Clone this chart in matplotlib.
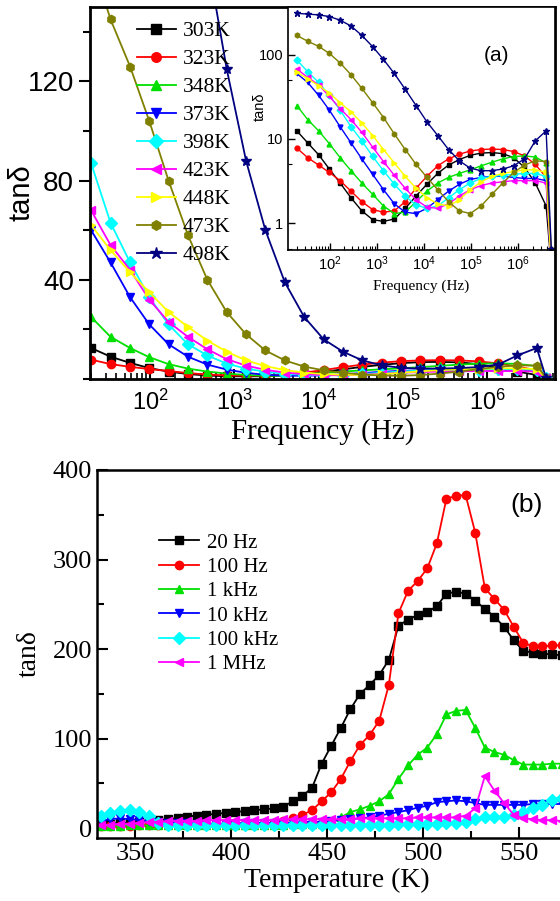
import matplotlib
matplotlib.use('Agg')
import matplotlib.pyplot as plt
from matplotlib.ticker import MultipleLocator, FixedLocator, LogLocator, NullFormatter

plt.rcParams['mathtext.default'] = 'regular'
SANS = 'Liberation Sans'
SERIF = 'Liberation Serif'

# ---- panel (a): tan(delta) vs frequency at several temperatures ----
freq = [20, 34, 58, 98, 166, 282, 479, 813, 1380, 2340, 3980, 6760, 11500,
        19500, 33100, 56200, 95500, 162000, 275000, 468000, 794000,
        1350000, 2290000, 3890000, 5000000]

labels_a = ['303K', '323K', '348K', '373K', '398K', '423K', '448K', '473K', '498K']
tan_303 = [12.5, 9, 6.5, 4.4, 3.0, 2.0, 1.4, 1.1, 1.05, 1.12, 1.5, 2.1, 2.9,
           3.9, 4.9, 5.7, 6.4, 6.8, 6.9, 6.7, 6.0, 4.6, 3.0, 1.6, 0.3]
tan_323 = [7.8, 6.0, 4.9, 4.0, 3.2, 2.4, 1.8, 1.45, 1.35, 1.4, 1.8, 2.6, 3.6,
           4.8, 5.8, 6.6, 7.2, 7.5, 7.6, 7.5, 7.1, 6.3, 5.0, 3.5, 0.3]
tan_348 = [25, 17, 12.5, 8.8, 6.0, 4.2, 3.0, 2.2, 1.6, 1.3, 1.35, 1.8, 2.4,
           3.0, 3.5, 3.9, 4.3, 4.8, 5.3, 5.8, 6.2, 6.3, 6.1, 5.2, 0.3]
tan_373 = [60, 47, 33, 22, 14, 9, 5.8, 3.8, 2.5, 1.7, 1.35, 1.3, 1.5,
           1.9, 2.4, 2.9, 3.3, 3.5, 3.6, 3.6, 3.5, 3.4, 3.4, 3.2, 0.3]
tan_398 = [87, 63, 47, 33, 22, 14, 9.5, 6.2, 4.2, 2.9, 2.1, 1.65, 1.5,
           1.6, 2.0, 2.5, 3.0, 3.4, 3.6, 3.7, 3.8, 3.9, 3.9, 3.6, 0.3]
tan_423 = [68, 54, 44, 32, 23, 17, 12, 8.0, 5.4, 3.7, 2.6, 1.9, 1.55,
           1.5, 1.7, 2.1, 2.5, 2.8, 3.0, 3.1, 3.2, 3.2, 3.2, 3.0, 0.3]
tan_448 = [62, 52, 43, 35, 27, 21, 15.5, 11, 7.5, 5.2, 3.6, 2.6, 2.0,
           1.7, 1.6, 1.9, 2.5, 3.1, 3.6, 3.9, 4.1, 4.3, 4.3, 4.0, 0.3]
tan_473 = [170, 145, 126, 104, 80, 58, 40, 27, 18, 11.5, 7.5, 5.0, 3.5,
           2.5, 1.8, 1.4, 1.3, 1.6, 2.2, 3.0, 4.0, 4.9, 5.5, 5.4, 0.5]
tan_498 = [311, 305, 298, 285, 258, 220, 170, 125, 88, 60, 39, 25, 16,
           11, 7.5, 5.5, 4.5, 4.2, 4.2, 4.4, 4.8, 5.8, 9.5, 12.5, 0.5]
series_a = [tan_303, tan_323, tan_348, tan_373, tan_398, tan_423, tan_448, tan_473, tan_498]

colors_a = ['#000000', '#ff0000', '#00e000', '#0000ff', '#00ffff',
            '#ff00ff', '#ffff00', '#808000', '#000080']
markers_a = ['s', 'o', '^', 'v', 'D', '<', '>', 'h', '*']

# ---- panel (b): tan(delta) vs temperature at several frequencies ----
temp = [332, 337, 342, 347, 352, 357, 362, 367, 372, 377, 382, 387, 392, 397,
        402, 407, 412, 417, 422, 427, 432, 437, 442, 447, 452, 457, 462, 467,
        472, 477, 482, 487, 492, 497, 502, 507, 512, 517, 522, 527, 532, 537,
        542, 547, 552, 557, 562, 567, 572]

labels_b = ['20 Hz', '100 Hz', '1 kHz', '10 kHz', '100 kHz', '1 MHz']
tan_20 = [4, 5, 6, 6, 7, 8, 9, 10, 11, 13, 14, 15, 16, 17,
          18, 19, 20, 21, 22, 24, 30, 36, 45, 72, 92, 112, 133, 150,
          160, 171, 188, 226, 233, 238, 241, 248, 262, 264, 262, 254, 245, 236,
          225, 210, 198, 196, 195, 194, 193]
tan_100 = [2, 2, 2, 2, 3, 3, 3, 3, 3, 4, 4, 4, 4, 4,
           5, 5, 5, 5, 6, 8, 11, 15, 20, 30, 40, 55, 75, 93,
           104, 120, 160, 240, 265, 276, 290, 318, 368, 371, 372, 330, 268, 256,
           244, 225, 207, 203, 203, 204, 204]
tan_1k = [2, 2, 2, 3, 3, 3, 3, 3, 3, 3, 3, 3, 4, 4,
          4, 4, 4, 4, 4, 4, 5, 5, 5, 5, 6, 12, 18, 21,
          25, 30, 38, 55, 70, 82, 90, 105, 127, 131, 132, 112, 90, 85,
          82, 76, 71, 71, 71, 72, 72]
tan_10k = [8, 10, 11, 10, 9, 8, 7, 6, 6, 6, 5, 5, 5, 5,
           5, 6, 6, 6, 6, 6, 6, 7, 7, 7, 8, 9, 10, 11,
           12, 14, 16, 18, 20, 23, 25, 29, 30, 31, 30, 28, 26, 26,
           26, 26, 26, 27, 27, 27, 27]
tan_100k = [14, 17, 19, 20, 18, 14, 6, 4, 3, 3, 3, 3, 3, 3,
            3, 3, 3, 3, 3, 3, 3, 3, 3, 3, 4, 4, 4, 4,
            4, 4, 4, 5, 5, 5, 5, 5, 6, 6, 7, 10, 12, 12,
            13, 15, 18, 22, 26, 31, 34]
tan_1M = [3, 4, 5, 5, 6, 7, 7, 8, 8, 8, 8, 9, 9, 9,
          9, 9, 9, 9, 9, 10, 10, 10, 10, 10, 10, 10, 10, 11,
          11, 11, 11, 11, 11, 12, 12, 12, 12, 12, 14, 22, 58, 42,
          28, 15, 11, 10, 9, 9, 8]
series_b = [tan_20, tan_100, tan_1k, tan_10k, tan_100k, tan_1M]
colors_b = ['#000000', '#ff0000', '#00e000', '#0000ff', '#00ffff', '#ff00ff']
markers_b = ['s', 'o', '^', 'v', 'D', '<']

W, H = 560, 901
fig = plt.figure(figsize=(W / 100, H / 100), dpi=100)


def frac(x0, y0, x1, y1):
    # pixel box (left, top, right, bottom) -> figure fraction rect
    return [x0 / W, 1 - y1 / H, (x1 - x0) / W, (y1 - y0) / H]


# main axes of (a)
ax1 = fig.add_axes(frac(90, 7, 555, 379))
for vals, c, m, lab in zip(series_a, colors_a, markers_a, labels_a):
    ms = 7.5 if m == '*' else 6
    ax1.plot(freq, vals, color=c, marker=m, ms=ms, lw=1.3, mec=c, label=lab)
ax1.set_xscale('log')
ax1.set_xlim(19.4, 6.4e6)
ax1.set_ylim(0, 150)
ax1.set_yticks([40, 80, 120])
ax1.yaxis.set_minor_locator(MultipleLocator(20))
ax1.tick_params(axis='y', which='major', direction='out', length=8, width=1.5, labelsize=20)
ax1.tick_params(axis='y', which='minor', direction='out', length=5, width=1.5)
ax1.tick_params(axis='x', which='major', direction='in', length=7, width=1.5, labelsize=17, pad=8)
ax1.tick_params(axis='x', which='minor', direction='in', length=4, width=1.2)
for lab in ax1.get_xticklabels() + ax1.get_yticklabels():
    lab.set_fontfamily(SANS)
for s in ax1.spines.values():
    s.set_linewidth(2)
ax1.set_ylabel('tanδ', fontsize=21, family=SANS)
ax1.yaxis.set_label_coords(-0.118, 0.5)
ax1.set_xlabel('Frequency (Hz)', fontsize=21, family=SERIF, labelpad=2)
ax1.legend(loc='upper left', bbox_to_anchor=(0.1, 0.962), frameon=False,
           prop={'family': SERIF, 'size': 15.5}, handlelength=1.85,
           handletextpad=0.3, labelspacing=0.37, borderpad=0, borderaxespad=0,
           markerscale=1.15)

# inset of (a)
axin = fig.add_axes(frac(288, 7, 555, 250))
for vals, c, m in zip(series_a, colors_a, markers_a):
    ms = 5 if m == '*' else 3.5
    axin.plot(freq, vals, color=c, marker=m, ms=ms, lw=1.0, mec=c)
axin.set_xscale('log')
axin.set_yscale('log')
axin.set_xlim(13, 6e6)
axin.set_ylim(0.48, 370)
axin.xaxis.set_major_locator(FixedLocator([1e2, 1e3, 1e4, 1e5, 1e6]))
axin.set_xticklabels(['$10^{%d}$' % n for n in range(2, 7)])
axin.xaxis.set_minor_locator(LogLocator(base=10, subs=range(2, 10), numticks=20))
axin.xaxis.set_minor_formatter(NullFormatter())
axin.yaxis.set_major_locator(FixedLocator([1, 10, 100]))
axin.set_yticklabels(['1', '10', '100'])
axin.yaxis.set_minor_locator(FixedLocator([0.5, 5, 50]))
axin.yaxis.set_minor_formatter(NullFormatter())
axin.tick_params(which='major', direction='in', length=5, width=1, labelsize=10.5)
axin.tick_params(which='minor', direction='in', length=3, width=0.8)
for lab in axin.get_xticklabels() + axin.get_yticklabels():
    lab.set_fontfamily(SANS)
for s in axin.spines.values():
    s.set_linewidth(1.2)
axin.set_xlabel('Frequency (Hz)', fontsize=11, family=SERIF, labelpad=4)
axin.set_ylabel('tanδ', fontsize=10.5, family=SANS)
axin.yaxis.set_label_coords(-0.08, 0.59)
axin.text(0.78, 0.8, '(a)', transform=axin.transAxes, fontsize=15, family=SANS,
          ha='center', va='center')

# panel (b)
ax2 = fig.add_axes(frac(97, 470, 577, 838))
for vals, c, m, lab in zip(series_b, colors_b, markers_b, labels_b):
    ax2.plot(temp, vals, color=c, marker=m, ms=6, lw=1.3, mec=c, label=lab)
ax2.set_xlim(330, 580)
ax2.set_ylim(-11, 400)
ax2.xaxis.set_major_locator(MultipleLocator(50))
ax2.xaxis.set_minor_locator(MultipleLocator(25))
ax2.yaxis.set_major_locator(MultipleLocator(100))
ax2.yaxis.set_minor_locator(MultipleLocator(50))
ax2.tick_params(which='major', direction='in', length=8, width=1.5, labelsize=19)
ax2.tick_params(which='minor', direction='in', length=5, width=1.5)
for lab in ax2.get_xticklabels() + ax2.get_yticklabels():
    lab.set_fontfamily(SERIF)
for s in ax2.spines.values():
    s.set_linewidth(1.8)
ax2.set_xlabel('Temperature (K)', fontsize=20, family=SERIF, labelpad=2)
ax2.set_ylabel('tanδ', fontsize=20, family=SERIF, labelpad=8)
ax2.legend(loc='upper left', bbox_to_anchor=(0.13, 0.829), frameon=False,
           prop={'family': SERIF, 'size': 15}, handlelength=1.9,
           handletextpad=0.4, labelspacing=0.23, borderpad=0, borderaxespad=0)
fig.text(527 / W, 1 - 505 / H, '(b)', fontsize=19, family=SANS, ha='center', va='center')

fig.savefig('out.png', dpi=100)
